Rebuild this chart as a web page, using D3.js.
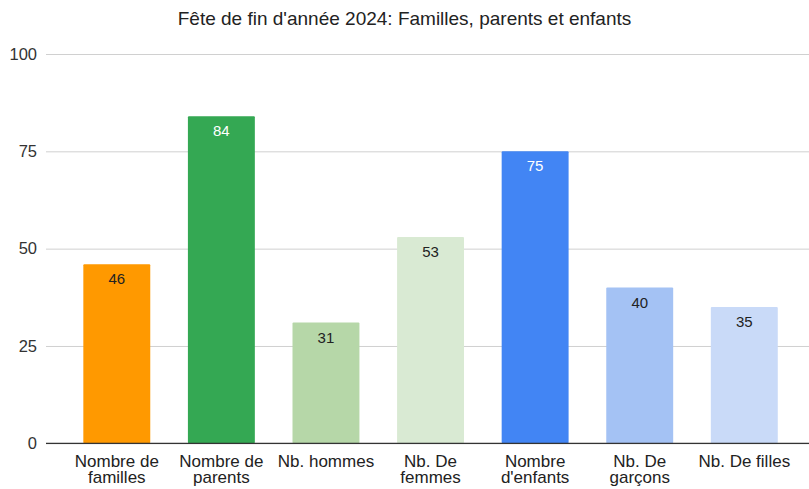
<!DOCTYPE html>
<html><head><meta charset="utf-8">
<script src="https://cdn.jsdelivr.net/npm/d3@7"></script>
<style>body{margin:0;background:#fff}svg{display:block}</style>
</head><body>
<svg id="c" width="809" height="489"></svg>
<script>
const title = "Fête de fin d'année 2024: Familles, parents et enfants";
const categories = [["Nombre de","familles"],["Nombre de","parents"],["Nb. hommes"],["Nb. De","femmes"],["Nombre","d'enfants"],["Nb. De","garçons"],["Nb. De filles"]];
const values = [46, 84, 31, 53, 75, 40, 35];
const colors = ["#ff9900","#34a853","#b6d7a8","#d9ead3","#4285f4","#a4c2f4","#c9daf8"];
const labelColors = ["#222","#fff","#222","#222","#fff","#222","#222"];
const yTicks = [0, 25, 50, 75, 100];

const svg = d3.select("#c");
const font = "Liberation Sans, Arial, sans-serif";
const ids = categories.map((c,i)=>i);
const x = d3.scaleBand().domain(ids).range([64.5, 796.6]).paddingInner(0.36).paddingOuter(0.18);
const y = d3.scaleLinear().domain([0,100]).range([443.3, 54]);

svg.append("text").attr("x",404.5).attr("y",25).attr("text-anchor","middle")
  .attr("font-family",font).attr("font-size",19).attr("fill","#222").text(title);

// grid
const yAxis = d3.axisLeft(y).tickValues(yTicks).tickSize(-(809-46)).tickPadding(9);
const gy = svg.append("g").attr("transform","translate(46,0)").call(yAxis);
gy.select(".domain").remove();
gy.selectAll(".tick line").attr("stroke","#d0d0d0").attr("stroke-width",1);
gy.selectAll(".tick text").attr("font-family",font).attr("font-size",16.5).attr("fill","#333");

// bars
svg.append("g").selectAll("rect").data(values).join("rect")
  .attr("x",(d,i)=>x(i)).attr("width",x.bandwidth())
  .attr("y",d=>y(d)).attr("height",d=>y(0)-y(d))
  .attr("fill",(d,i)=>colors[i]).attr("rx",1);

// value labels
svg.append("g").selectAll("text").data(values).join("text")
  .attr("x",(d,i)=>x(i)+x.bandwidth()/2).attr("y",d=>y(d)+20)
  .attr("text-anchor","middle").attr("font-family",font).attr("font-size",15)
  .attr("fill",(d,i)=>labelColors[i]).text(d=>d);

// baseline
svg.append("line").attr("x1",46).attr("x2",809).attr("y1",y(0)).attr("y2",y(0))
  .attr("stroke","#333").attr("stroke-width",1.3);

// x labels
const xl = svg.append("g").selectAll("text").data(categories).join("text")
  .attr("x",(d,i)=>x(i)+x.bandwidth()/2).attr("y",466.5)
  .attr("text-anchor","middle").attr("font-family",font).attr("font-size",17).attr("fill","#222");
xl.each(function(d,i){
  const t = d3.select(this);
  d.forEach((line,j)=>t.append("tspan").attr("x",x(i)+x.bandwidth()/2).attr("dy",j?16.5:0).text(line));
});
</script>
</body></html>
